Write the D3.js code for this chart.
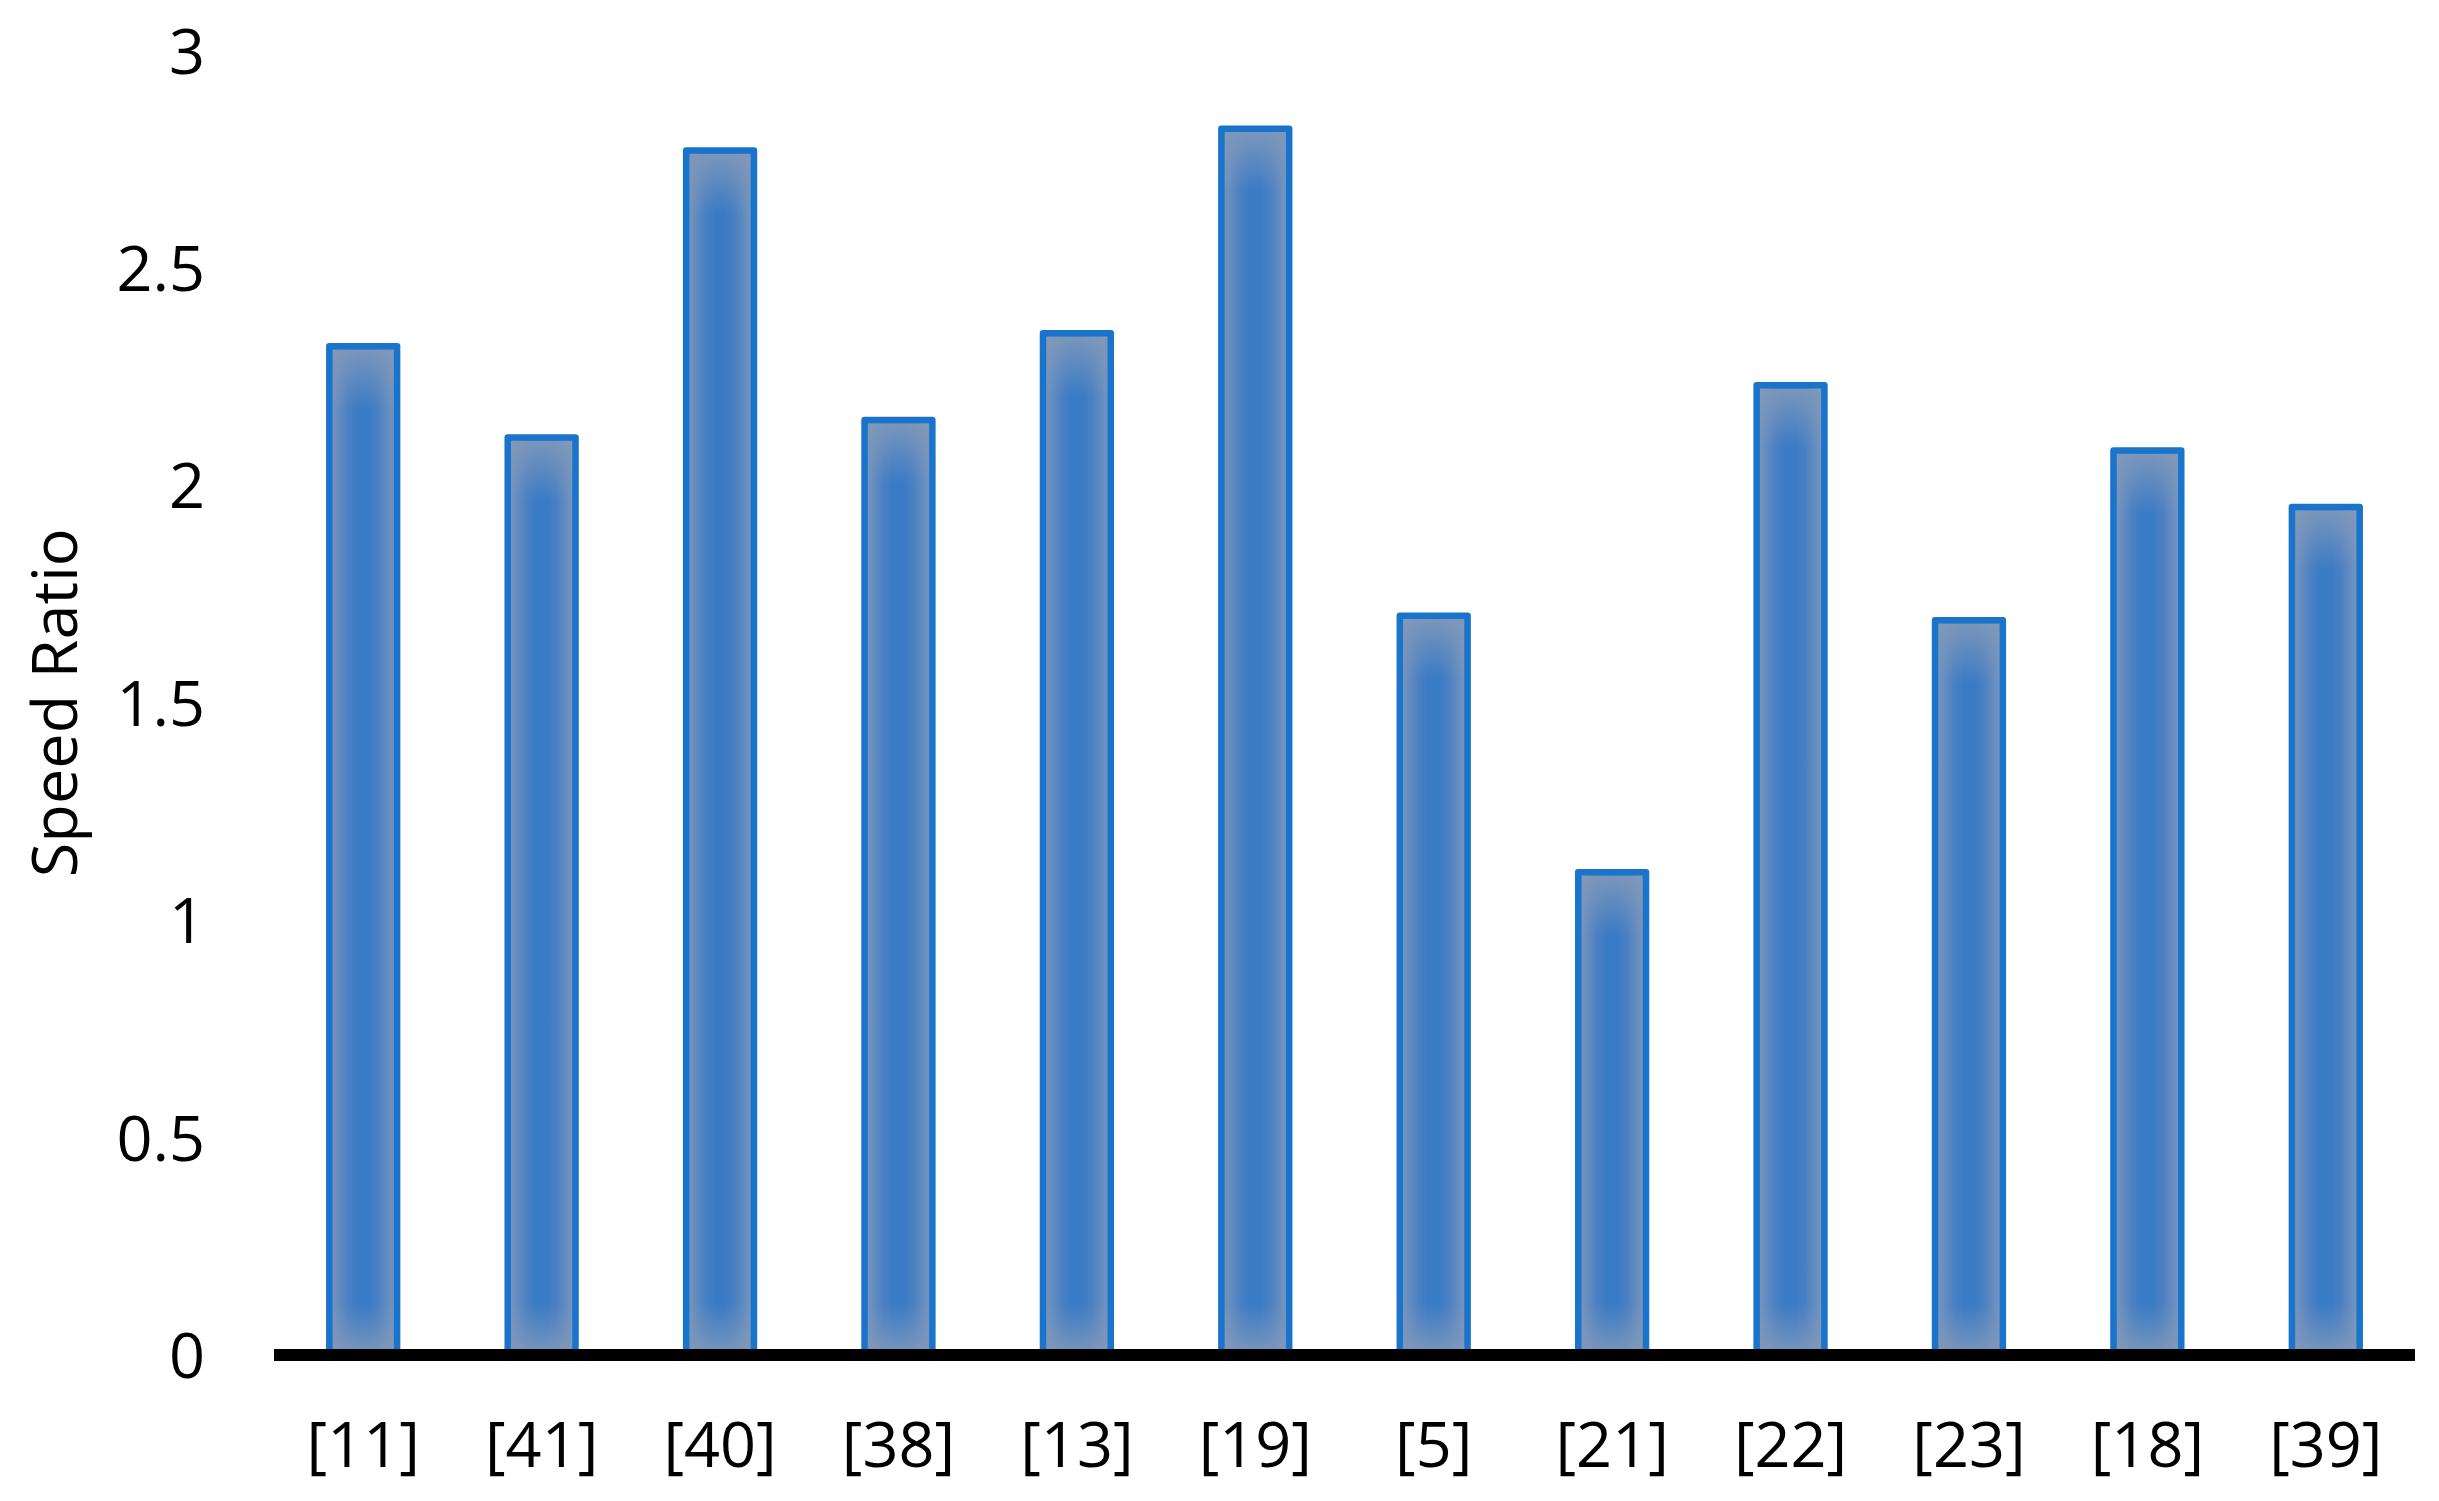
<!DOCTYPE html>
<html>
<head>
<meta charset="utf-8">
<script src="https://cdn.jsdelivr.net/npm/d3@7"></script>
<style>
  html, body { margin: 0; padding: 0; background: #ffffff; }
  svg { display: block; }
  text { font-family: "Open Sans", "Noto Sans", sans-serif; fill: #000; }
</style>
</head>
<body>
<svg id="chart" width="2439" height="1501"></svg>
<script>
// ---- data ----
const categories = ["[11]", "[41]", "[40]", "[38]", "[13]", "[19]", "[5]", "[21]", "[22]", "[23]", "[18]", "[39]"];
const speedRatio = [2.32, 2.11, 2.77, 2.15, 2.35, 2.82, 1.70, 1.11, 2.23, 1.69, 2.08, 1.95];
const yTicks = [0, 0.5, 1, 1.5, 2, 2.5, 3];
const yTickLabels = ["0", "0.5", "1", "1.5", "2", "2.5", "3"];
const yAxisTitle = "Speed Ratio";

// ---- layout ----
const W = 2439, H = 1501;
const plotLeft = 274, plotRight = 2415;
const yZero = 1355, yTop = 50.5;
const fontSize = 63;
const capHalf = fontSize * 0.714 / 2;
const strokeW = 6.5;

const svg = d3.select("#chart");

const x = d3.scaleBand()
  .domain(categories)
  .range([plotLeft, plotRight])
  .paddingInner(0.62)
  .paddingOuter(0.31);

const y = d3.scaleLinear().domain([0, 3]).range([yZero, yTop]);

// ---- gradients ----
const defs = svg.append("defs");
const hg = defs.append("linearGradient").attr("id", "hgrad")
  .attr("x1", "0").attr("x2", "1").attr("y1", "0").attr("y2", "0");
[[0, "#7f98bb"], [0.28, "#4a80c3"], [0.42, "#3a7bc6"], [0.58, "#3a7bc6"], [0.72, "#4a80c3"], [1, "#7f98bb"]]
  .forEach(([o, c]) => hg.append("stop").attr("offset", o).attr("stop-color", c));

const vgTop = defs.append("linearGradient").attr("id", "vgTop")
  .attr("x1", "0").attr("x2", "0").attr("y1", "0").attr("y2", "1");
vgTop.append("stop").attr("offset", 0).attr("stop-color", "#8299b9").attr("stop-opacity", 0.9);
vgTop.append("stop").attr("offset", 1).attr("stop-color", "#8299b9").attr("stop-opacity", 0);

const vgBot = defs.append("linearGradient").attr("id", "vgBot")
  .attr("x1", "0").attr("x2", "0").attr("y1", "1").attr("y2", "0");
vgBot.append("stop").attr("offset", 0).attr("stop-color", "#8299b9").attr("stop-opacity", 0.8);
vgBot.append("stop").attr("offset", 1).attr("stop-color", "#8299b9").attr("stop-opacity", 0);

const data = categories.map((c, i) => ({ c, v: speedRatio[i] }));

// ---- bars ----
const bars = svg.append("g").attr("class", "bars");
bars.selectAll("rect.fill").data(data).join("rect")
  .attr("class", "fill")
  .attr("x", d => x(d.c))
  .attr("y", d => y(d.v))
  .attr("width", x.bandwidth())
  .attr("height", d => y(0) - y(d.v))
  .attr("fill", "url(#hgrad)");

const fadeTop = 60, fadeBot = 45;
bars.selectAll("rect.ftop").data(data).join("rect")
  .attr("class", "ftop")
  .attr("x", d => x(d.c) + strokeW / 2)
  .attr("y", d => y(d.v) + strokeW / 2)
  .attr("width", x.bandwidth() - strokeW)
  .attr("height", d => Math.min(fadeTop, (y(0) - y(d.v)) / 2))
  .attr("fill", "url(#vgTop)");

bars.selectAll("rect.fbot").data(data).join("rect")
  .attr("class", "fbot")
  .attr("x", d => x(d.c) + strokeW / 2)
  .attr("y", d => y(0) - 6 - Math.min(fadeBot, (y(0) - y(d.v)) / 2))
  .attr("width", x.bandwidth() - strokeW)
  .attr("height", d => Math.min(fadeBot, (y(0) - y(d.v)) / 2))
  .attr("fill", "url(#vgBot)");

bars.selectAll("rect.edge").data(data).join("rect")
  .attr("class", "edge")
  .attr("x", d => x(d.c))
  .attr("y", d => y(d.v))
  .attr("width", x.bandwidth())
  .attr("height", d => y(0) - y(d.v))
  .attr("fill", "none")
  .attr("stroke", "#1a74cb")
  .attr("stroke-width", strokeW)
  .attr("stroke-linejoin", "round");

// ---- x axis (thick baseline) ----
const xAxis = d3.axisBottom(x).tickSize(0).tickPadding(0);
const gx = svg.append("g").attr("transform", `translate(0,${y(0)})`).call(xAxis);
gx.select(".domain").attr("d", `M${plotLeft},0H${plotRight}`)
  .attr("stroke", "#000").attr("stroke-width", 12);
gx.selectAll(".tick text")
  .attr("font-family", '"Open Sans", "Noto Sans", sans-serif')
  .attr("font-size", fontSize)
  .attr("fill", "#000")
  .attr("dy", null)
  .attr("y", 1445 - yZero + capHalf);

// ---- y axis (labels only) ----
const yAxis = d3.axisLeft(y).tickValues(yTicks)
  .tickFormat((d, i) => yTickLabels[i]).tickSize(0).tickPadding(0);
const gy = svg.append("g").attr("transform", "translate(205,0)").call(yAxis);
gy.select(".domain").remove();
gy.selectAll(".tick text")
  .attr("font-family", '"Open Sans", "Noto Sans", sans-serif')
  .attr("font-size", fontSize)
  .attr("fill", "#000")
  .attr("x", 0)
  .attr("dy", null)
  .attr("y", capHalf);

// ---- y axis title ----
svg.append("text")
  .attr("transform", `translate(77,${(yZero + yTop) / 2}) rotate(-90)`)
  .attr("text-anchor", "middle")
  .attr("font-size", fontSize)
  .text(yAxisTitle);
</script>
</body>
</html>
